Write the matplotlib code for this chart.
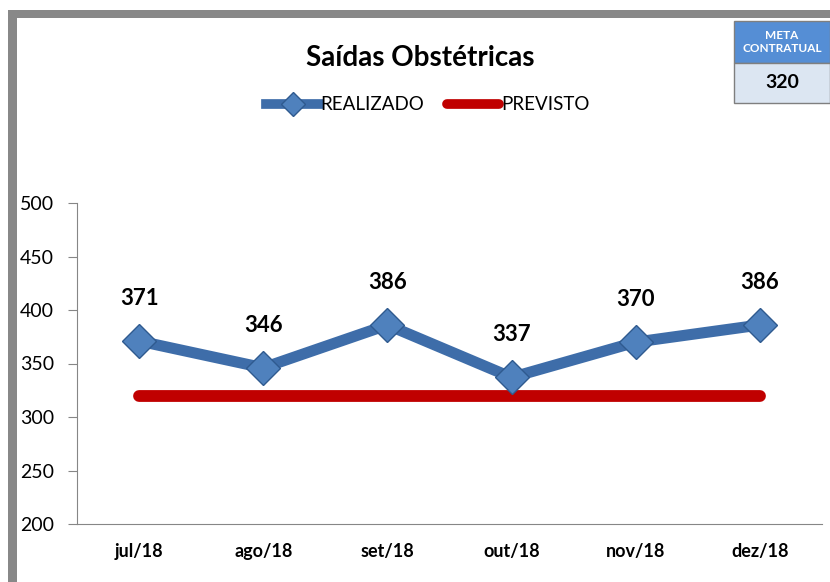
import matplotlib.pyplot as plt
from matplotlib.patches import Rectangle
from matplotlib.lines import Line2D

# ─── Data ────────────────────────────────────────────────────────────────────
meses = ["jul/18", "ago/18", "set/18", "out/18", "nov/18", "dez/18"]
realizado = [371, 346, 386, 337, 370, 386]
previsto = [320, 320, 320, 320, 320, 320]
meta = 320

W, H = 830, 582
BLUE = "#3E6DA9"
RED = "#C00000"
GRAY = "#868686"

plt.rcParams["font.family"] = ["Lato", "DejaVu Sans"]

fig = plt.figure(figsize=(W / 100, H / 100), dpi=100)

# gray frame (top and left)
fig.patches.append(Rectangle((8 / W, 1 - 18 / H), 1, 8 / H, transform=fig.transFigure,
                             facecolor="#888888", edgecolor="none"))
fig.patches.append(Rectangle((8 / W, 0), 9 / W, 1 - 10 / H, transform=fig.transFigure,
                             facecolor="#888888", edgecolor="none"))

ax = fig.add_axes([77 / W, (H - 524) / H, (822 - 77) / W, 321 / H])
x = range(len(meses))

ax.plot(x, previsto, color=RED, lw=8.5, solid_capstyle="round", zorder=2)
ax.plot(x, realizado, color=BLUE, lw=8, marker="D", ms=17, mfc="#4F81BD",
        mec="#2F5A8F", mew=1, solid_capstyle="round", zorder=3)

for i, v in enumerate(realizado):
    ax.annotate(str(v), (i, v), xytext=(0, 23), textcoords="offset points",
                ha="center", va="bottom", fontsize=16, fontweight="bold")

ax.set_ylim(200, 500)
ax.set_yticks(range(200, 501, 50))
ax.set_xlim(-0.5, 5.5)
ax.set_xticks(list(x))
ax.set_xticklabels(meses, fontsize=13, fontweight="bold")
ax.tick_params(axis="x", length=0, pad=14)
ax.tick_params(axis="y", labelsize=14, length=6.5, color=GRAY, pad=10)
for s in ["top", "right"]:
    ax.spines[s].set_visible(False)
for s in ["left", "bottom"]:
    ax.spines[s].set_color(GRAY)

fig.text(420 / W, 1 - 58 / H, "Saídas Obstétricas", ha="center", va="center",
         fontsize=20, fontweight="bold")

handles = [
    Line2D([0], [0], color=BLUE, lw=7, marker="D", ms=12, mfc="#4F81BD", mec="#2F5A8F"),
    Line2D([0], [0], color=RED, lw=7, solid_capstyle="round"),
]
fig.legend(handles, ["REALIZADO", "PREVISTO"], loc="center", ncol=2,
           bbox_to_anchor=(428 / W, 1 - 105 / H), frameon=False, fontsize=13.5,
           handlelength=2.8, handletextpad=0.1, columnspacing=1.2)

# meta contratual box
fig.patches.append(Rectangle((734 / W, 1 - 63 / H), (W - 734) / W, 42 / H,
                             transform=fig.transFigure, facecolor="#558ED5",
                             edgecolor="#7F7F7F", lw=1))
fig.patches.append(Rectangle((734 / W, 1 - 103 / H), (W - 734) / W, 40 / H,
                             transform=fig.transFigure, facecolor="#DCE6F2",
                             edgecolor="#7F7F7F", lw=1))
fig.text(782 / W, 1 - 42 / H, "META\nCONTRATUAL", ha="center", va="center",
         fontsize=8.5, fontweight="bold", color="white", linespacing=1.3)
fig.text(782 / W, 1 - 83 / H, str(meta), ha="center", va="center",
         fontsize=14, fontweight="bold")

fig.savefig("out.png", dpi=100)
